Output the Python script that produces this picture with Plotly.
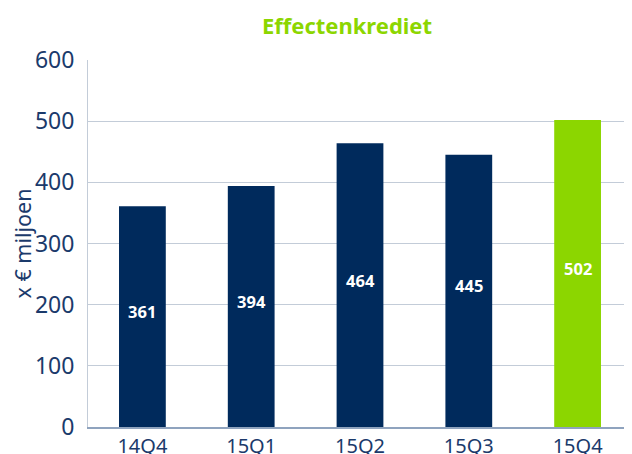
import plotly.graph_objects as go

# Kwartalen en effectenkrediet (x € miljoen)
quarters = ['14Q4', '15Q1', '15Q2', '15Q3', '15Q4']
values = [361, 394, 464, 445, 502]
bar_colors = ['#002A5C', '#002A5C', '#002A5C', '#002A5C', '#8CD600']

navy = '#1B3A6B'
grid = '#C3CCD8'

# the page body adds an 8px margin, so the figure is drawn 8px smaller
fig = go.Figure(go.Bar(
    x=quarters,
    y=values,
    marker=dict(color=bar_colors, line=dict(width=0)),
    width=0.43,
    hoverinfo='x+y',
))

# value labels, placed a little above the middle of each bar
for q, v in zip(quarters, values):
    fig.add_annotation(
        x=q, y=v / 2, text=str(v), showarrow=False, yshift=5,
        font=dict(family='Noto Sans', size=16.5, color='white', weight='bold'),
    )

fig.update_layout(
    width=624, height=446,
    margin=dict(l=80, r=0, t=52, b=27, autoexpand=False),
    paper_bgcolor='white', plot_bgcolor='white',
    font=dict(family='Noto Sans', color=navy),
    title=dict(text='Effectenkrediet', x=339 / 624, xanchor='center',
               y=1 - 18 / 446, yanchor='middle',
               font=dict(size=22, color='#8CD600', weight='bold')),
    showlegend=False,
)
fig.update_xaxes(
    automargin=False,
    showline=True, linecolor='#8FA3BE', linewidth=1.5,
    tickfont=dict(size=20, color=navy), ticks='', showgrid=False,
)
fig.update_yaxes(
    automargin=False,
    range=[0, 600], dtick=100, showgrid=True, gridcolor=grid, gridwidth=1,
    showline=True, linecolor=grid, linewidth=1, zeroline=False,
    tickfont=dict(size=23, color=navy), ticks='', ticklabelstandoff=8,
    title=dict(text='x € miljoen', font=dict(size=21.5, color=navy), standoff=4),
)

fig.write_html('out.html')
